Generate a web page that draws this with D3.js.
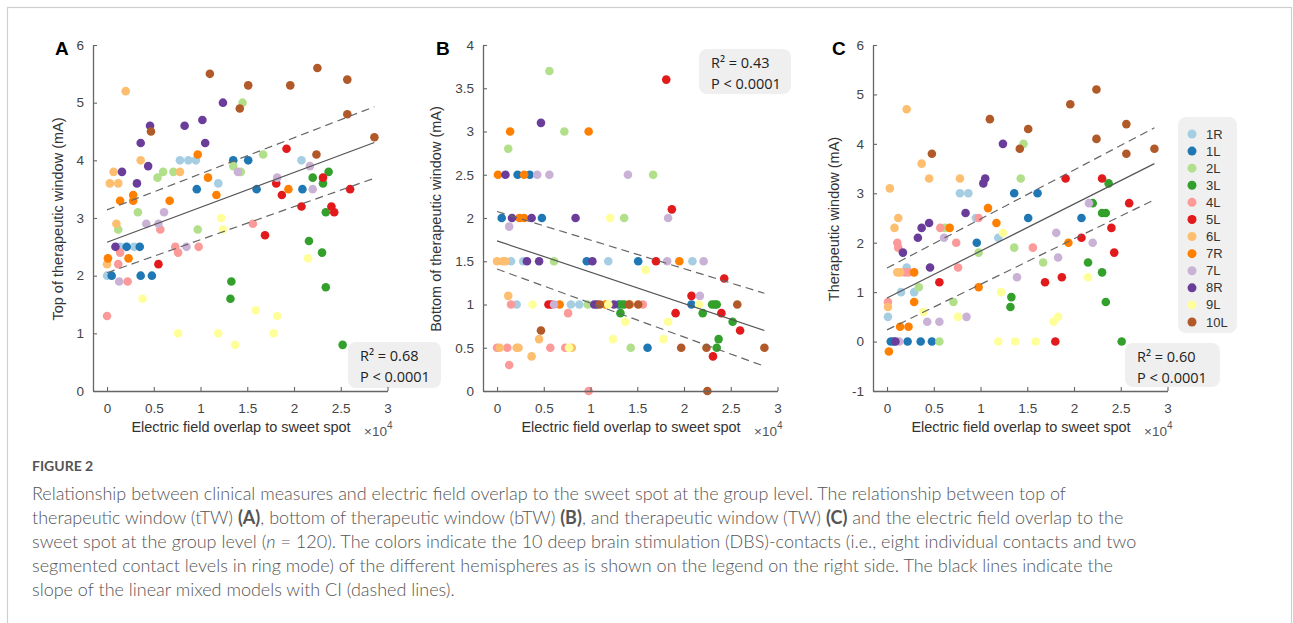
<!DOCTYPE html>
<html><head><meta charset="utf-8">
<script src="https://cdn.jsdelivr.net/npm/d3@7"></script>
<style>body{margin:0;background:#fff}svg{display:block}</style>
</head><body>
<svg id="fig" width="1293" height="623"></svg>
<script>
// ---------- DATA ----------
const categories = ["1R","1L","2L","3L","4L","5L","6L","7R","7L","8R","9L","10L"];
const categoryColors = ["#a6cee3","#1f78b4","#b2df8a","#33a02c","#fb9a99","#e31a1c","#fdbf6f","#ff7f00","#cab2d6","#6a3d9a","#ffff99","#b15928"];
const xTicks = [0,0.5,1,1.5,2,2.5,3];
const xTickLabels = ["0","0.5","1","1.5","2","2.5","3"];
const yTicksA = [0,1,2,3,4,5,6];
const yTicksB = [0,0.5,1,1.5,2,2.5,3,3.5,4];
const yTicksC = [-1,0,1,2,3,4,5,6];
const xAxisTitle = "Electric field overlap to sweet spot";
const yTitles = ["Top of therapeutic window (mA)","Bottom of therapeutic window (mA)","Therapeutic window (mA)"];
const panelLetters = ["A","B","C"];
const statsA = ["R² = 0.68","P < 0.0001"];
const statsB = ["R² = 0.43","P < 0.0001"];
const statsC = ["R² = 0.60","P < 0.0001"];

// [contact, overlap (x10^4), value (mA)]
const topTW = [
 ["1R",0.78,4.0],["1R",0.87,4.0],["1R",0.95,4.0],["1R",1.19,3.6],["1R",2.08,4.0],["1R",0.14,2.5],["1R",0.29,2.5],["1R",0.0,2.0],
 ["1L",1.35,4.0],["1L",1.51,4.0],["1L",0.96,3.5],["1L",1.60,3.5],["1L",2.09,3.5],["1L",0.21,2.5],["1L",0.35,2.5],["1L",0.05,2.0],["1L",0.36,2.0],["1L",0.48,2.0],
 ["2L",1.45,5.0],["2L",1.67,4.1],["2L",1.35,3.9],["2L",1.43,3.8],["2L",0.54,3.7],["2L",0.60,3.8],["2L",0.71,3.8],["2L",0.33,3.1],["2L",0.12,2.8],["2L",0.97,2.8],
 ["3L",2.20,3.7],["3L",2.37,3.8],["3L",2.31,3.6],["3L",2.34,3.1],["3L",2.16,2.6],["3L",2.30,2.4],["3L",2.34,1.8],["3L",1.33,1.9],["3L",1.32,1.6],["3L",2.52,0.8],
 ["4L",0.57,2.8],["4L",1.56,2.9],["4L",0.73,2.5],["4L",0.76,2.4],["4L",0.98,2.5],["4L",0.14,2.4],["4L",0.12,2.2],["4L",0.22,1.9],["4L",0.0,1.3],
 ["5L",1.92,4.2],["5L",1.81,3.6],["5L",1.87,3.4],["5L",2.08,3.2],["5L",2.31,3.7],["5L",2.40,3.2],["5L",2.43,3.1],["5L",2.60,3.5],["5L",1.69,2.7],["5L",0.55,2.2],
 ["6L",0.20,5.2],["6L",0.36,4.0],["6L",0.07,3.8],["6L",0.03,3.6],["6L",0.12,3.6],["6L",0.10,2.9],["6L",0.78,3.8],["6L",0.0,2.2],
 ["7R",0.97,4.1],["7R",1.08,3.7],["7R",1.17,3.4],["7R",1.94,3.5],["7R",0.67,3.3],["7R",0.28,3.4],["7R",0.28,3.3],["7R",0.14,3.3],["7R",0.01,2.3],["7R",0.23,2.3],
 ["7L",1.40,3.8],["7L",1.82,3.7],["7L",2.17,3.9],["7L",2.20,3.5],["7L",0.61,3.1],["7L",0.42,2.9],["7L",0.55,2.9],["7L",0.85,2.5],["7L",0.13,1.9],
 ["8R",1.24,5.0],["8R",0.46,4.6],["8R",0.83,4.6],["8R",1.02,4.7],["8R",0.36,4.3],["8R",1.05,4.3],["8R",0.44,3.9],["8R",0.16,3.8],["8R",0.32,3.6],["8R",0.09,2.5],
 ["9L",1.22,3.0],["9L",1.24,2.8],["9L",2.15,2.3],["9L",0.38,1.6],["9L",0.76,1.0],["9L",1.19,1.0],["9L",1.37,0.8],["9L",1.59,1.4],["9L",1.78,1.0],["9L",1.82,1.3],
 ["10L",1.10,5.5],["10L",1.51,5.3],["10L",2.25,5.6],["10L",1.96,5.3],["10L",2.57,5.4],["10L",2.57,4.8],["10L",2.86,4.4],["10L",2.24,4.1],["10L",1.42,4.9],["10L",0.47,4.5]
];
const bottomTW = [
 ["1R",0.15,1.5],["1R",0.28,1.5],["1R",1.19,1.5],["1R",2.09,1.5],["1R",0.21,1.0],["1R",0.79,1.0],["1R",0.88,1.0],
 ["1L",0.22,2.5],["1L",0.35,2.5],["1L",0.05,2.0],["1L",0.48,2.0],["1L",0.96,1.5],["1L",1.51,1.5],["1L",2.08,1.0],["1L",1.61,0.5],["1L",1.30,1.0],
 ["2L",0.56,3.7],["2L",0.72,3.0],["2L",0.12,2.8],["2L",1.67,2.5],["2L",1.36,2.0],["2L",0.61,1.5],["2L",0.97,1.0],["2L",1.43,0.5],
 ["3L",1.33,1.0],["3L",1.36,1.0],["3L",2.30,1.0],["3L",2.33,1.0],["3L",2.35,1.0],["3L",1.32,0.9],["3L",2.20,0.9],["3L",2.52,0.8],["3L",2.37,0.6],["3L",2.35,0.5],
 ["4L",0.15,1.0],["4L",1.56,1.0],["4L",0.76,0.9],["4L",0.0,0.5],["4L",0.11,0.5],["4L",0.57,0.5],["4L",0.73,0.5],["4L",0.13,0.3],["4L",0.98,0.0],
 ["5L",1.81,3.6],["5L",1.87,2.1],["5L",1.70,1.5],["5L",2.43,1.3],["5L",2.08,1.1],["5L",0.55,1.0],["5L",0.58,1.0],["5L",1.91,0.9],["5L",2.40,0.9],["5L",2.60,0.7],["5L",2.31,0.4],
 ["6L",0.0,1.5],["6L",0.06,1.5],["6L",0.09,1.5],["6L",0.12,1.1],["6L",0.45,0.6],["6L",0.37,0.4],["6L",0.03,0.5],["6L",0.21,0.5],["6L",0.23,0.5],["6L",0.80,0.5],
 ["7R",0.14,3.0],["7R",0.98,3.0],["7R",0.01,2.5],["7R",0.29,2.5],["7R",0.24,2.0],["7R",0.29,2.0],["7R",1.95,1.5],["7R",0.67,1.0],["7R",1.16,1.0],["7R",1.42,1.0],
 ["7L",0.43,2.5],["7L",0.56,2.5],["7L",1.40,2.5],["7L",1.83,2.0],["7L",0.13,1.9],["7L",1.82,1.5],["7L",2.21,1.5],["7L",0.61,1.0],["7L",2.17,1.1],
 ["8R",0.47,3.1],["8R",0.09,2.5],["8R",0.16,2.0],["8R",0.37,2.0],["8R",0.84,2.0],["8R",0.32,1.5],["8R",0.45,1.5],["8R",1.02,1.5],["8R",1.04,1.0],["8R",1.07,1.0],["8R",1.25,1.0],
 ["9L",1.21,2.0],["9L",1.59,1.4],["9L",0.38,1.0],["9L",1.19,1.0],["9L",2.16,1.0],["9L",1.37,0.8],["9L",1.83,0.8],["9L",1.24,0.6],["9L",1.78,0.6],["9L",0.77,0.5],
 ["10L",1.10,1.0],["10L",1.41,1.0],["10L",1.51,1.0],["10L",2.57,1.0],["10L",0.47,0.7],["10L",1.97,0.5],["10L",2.24,0.5],["10L",2.86,0.5],["10L",2.25,0.0]
];
const windowTW = [
 ["1R",0.78,3.0],["1R",0.87,3.0],["1R",0.95,2.5],["1R",1.19,2.1],["1R",0.21,1.5],["1R",0.15,1.0],["1R",0.29,1.0],["1R",0.01,0.5],
 ["1L",1.36,3.0],["1L",1.61,3.0],["1L",1.51,2.5],["1L",2.08,2.5],["1L",0.96,2.0],["1L",0.04,0.0],["1L",0.07,0.0],["1L",0.22,0.0],["1L",0.36,0.0],["1L",0.48,0.0],
 ["2L",1.46,4.0],["2L",1.43,3.3],["2L",0.62,2.3],["2L",0.98,1.8],["2L",1.36,1.9],["2L",1.67,1.6],["2L",0.34,1.1],["2L",0.71,0.8],["2L",0.56,0.0],
 ["3L",2.37,3.2],["3L",2.20,2.8],["3L",2.30,2.6],["3L",2.34,2.6],["3L",2.15,1.6],["3L",2.30,1.4],["3L",1.33,0.9],["3L",1.32,0.7],["3L",2.34,0.8],["3L",2.51,0.0],
 ["4L",0.98,2.5],["4L",0.57,2.3],["4L",0.11,2.0],["4L",0.12,1.9],["4L",0.74,2.0],["4L",1.56,1.9],["4L",0.76,1.5],["4L",0.19,1.4],["4L",0.23,1.4],["4L",0.01,0.8],
 ["5L",1.91,3.3],["5L",2.30,3.3],["5L",2.59,2.8],["5L",2.40,2.3],["5L",2.08,2.1],["5L",2.43,1.8],["5L",1.87,1.3],["5L",1.69,1.2],["5L",0.56,1.2],["5L",1.80,0.0],
 ["6L",0.21,4.7],["6L",0.37,3.6],["6L",0.45,3.3],["6L",0.78,3.3],["6L",0.03,3.1],["6L",0.12,2.5],["6L",0.08,2.3],["6L",0.11,1.4],["6L",0.14,1.4],["6L",0.01,0.7],
 ["7R",1.08,2.7],["7R",1.17,2.4],["7R",0.67,2.3],["7R",1.94,2.0],["7R",0.29,1.4],["7R",0.98,1.1],["7R",0.29,0.8],["7R",0.14,0.3],["7R",0.23,0.3],["7R",0.02,-0.2],
 ["7L",2.16,2.8],["7L",0.61,2.1],["7L",1.81,2.2],["7L",2.20,2.0],["7L",1.83,1.7],["7L",1.39,1.3],["7L",0.85,0.5],["7L",0.43,0.4],["7L",0.56,0.4],["7L",0.13,0.0],
 ["8R",1.24,4.0],["8R",1.05,3.3],["8R",1.03,3.2],["8R",0.84,2.6],["8R",0.45,2.4],["8R",0.37,2.3],["8R",0.33,2.1],["8R",0.17,1.8],["8R",0.46,1.5],["8R",0.09,0.0],
 ["9L",1.24,2.2],["9L",2.15,1.3],["9L",1.22,1.0],["9L",0.39,0.6],["9L",0.76,0.5],["9L",1.83,0.5],["9L",1.78,0.4],["9L",1.19,0.0],["9L",1.37,0.0],["9L",1.59,0.0],
 ["10L",2.24,5.1],["10L",1.96,4.8],["10L",1.10,4.5],["10L",1.51,4.3],["10L",2.56,4.4],["10L",2.24,4.1],["10L",1.42,3.9],["10L",2.56,3.8],["10L",2.86,3.9],["10L",0.48,3.8]
];
// model fit and CI lines: [[x0,y0],[x1,y1]]
const fitA = [[0,2.58],[2.86,4.31]], ciHiA = [[0,3.14],[2.86,4.93]], ciLoA = [[0,2.05],[2.86,3.69]];
const fitB = [[0,1.736],[2.86,0.70]], ciHiB = [[0,2.075],[2.86,1.13]], ciLoB = [[0,1.41],[2.86,0.286]];
const fitC = [[0,0.88],[2.86,3.60]], ciHiC = [[0,1.487],[2.86,4.325]], ciLoC = [[0,0.237],[2.86,2.87]];

const captionTitle = "FIGURE 2";
const captionLines = [
 [["Relationship between clinical measures and electric field overlap to the sweet spot at the group level. The relationship between top of",""]],
 [["therapeutic window (tTW) ",""],["(A)","b"],[", bottom of therapeutic window (bTW) ",""],["(B)","b"],[", and therapeutic window (TW) ",""],["(C)","b"],[" and the electric field overlap to the",""]],
 [["sweet spot at the group level (",""],["n","i"],[" = 120). The colors indicate the 10 deep brain stimulation (DBS)-contacts (i.e., eight individual contacts and two",""]],
 [["segmented contact levels in ring mode) of the different hemispheres as is shown on the legend on the right side. The black lines indicate the",""]],
 [["slope of the linear mixed models with CI (dashed lines).",""]]
];

// ---------- DRAW ----------
const svg = d3.select("#fig");
const color = d3.scaleOrdinal().domain(categories).range(categoryColors);
const FONT = "'Liberation Sans', Arial, sans-serif";

svg.append("rect").attr("x",7.5).attr("y",7.5).attr("width",1284).attr("height",700)
  .attr("fill","#fff").attr("stroke","#cfcfcf").attr("stroke-width",1.2);

const panels = [
 {data: topTW, yDom:[0,6], yTicks:yTicksA, yFmt:d3.format("d"), axisX:93, letterX:55, titleX:63,
  fit:fitA, hi:ciHiA, lo:ciLoA, stats:statsA, box:{x:348,y:342,w:93,h:46}},
 {data: bottomTW, yDom:[0,4], yTicks:yTicksB, yFmt:d => String(d), axisX:483, letterX:436, titleX:441,
  fit:fitB, hi:ciHiB, lo:ciLoB, stats:statsB, box:{x:699,y:49,w:92,h:45}},
 {data: windowTW, yDom:[-1,6], yTicks:yTicksC, yFmt:d => String(d), axisX:873, letterX:832, titleX:839,
  fit:fitC, hi:ciHiC, lo:ciLoC, stats:statsC, box:{x:1125,y:343,w:95,h:44}}
];

panels.forEach((p,i) => {
  const g = svg.append("g");
  const x = d3.scaleLinear().domain([-0.15,3]).range([p.axisX, p.axisX+294.5]);
  const y = d3.scaleLinear().domain(p.yDom).range([391,45]);

  // stats box (behind)
  g.append("rect").attr("x",p.box.x).attr("y",p.box.y).attr("width",p.box.w).attr("height",p.box.h)
    .attr("rx",8).attr("fill","#efefef");
  p.stats.forEach((s,k) => {
    g.append("text").attr("x",p.box.x+12).attr("y",p.box.y+19+k*20.5)
      .attr("font-family","'Open Sans', sans-serif").attr("font-size",14.5).attr("fill","#222").text(s);
  });

  // points
  g.append("g").selectAll("circle").data(p.data).join("circle")
    .attr("cx",d=>x(d[1])).attr("cy",d=>y(d[2])).attr("r",4.3)
    .attr("fill",d=>color(d[0]));

  // lines
  const line = d3.line().x(d=>x(d[0])).y(d=>y(d[1]));
  g.append("path").attr("d",line(p.fit)).attr("fill","none").attr("stroke","#555").attr("stroke-width",1.2);
  [p.hi,p.lo].forEach(l => g.append("path").attr("d",line(l)).attr("fill","none")
     .attr("stroke","#666").attr("stroke-width",1.2).attr("stroke-dasharray","8,5"));

  // axes
  const xa = g.append("g").attr("transform","translate(0,391)")
    .call(d3.axisBottom(x).tickValues(xTicks).tickFormat((d,k)=>xTickLabels[k]).tickSizeInner(-4).tickSizeOuter(0).tickPadding(12));
  const ya = g.append("g").attr("transform",`translate(${p.axisX},0)`)
    .call(d3.axisLeft(y).tickValues(p.yTicks).tickFormat(p.yFmt).tickSizeInner(-4).tickSizeOuter(0).tickPadding(9));
  [xa,ya].forEach(a => {
    a.select(".domain").attr("stroke","#666").attr("stroke-width",1.3);
    a.selectAll(".tick line").attr("stroke","#666").attr("stroke-width",1.1);
    a.selectAll("text").attr("font-family",FONT).attr("font-size",13.5).attr("fill","#444");
  });

  // titles
  g.append("text").attr("x",x(0)+134).attr("y",432).attr("text-anchor","middle")
    .attr("font-family",FONT).attr("font-size",14.5).attr("fill","#333").text(xAxisTitle);
  const mult = g.append("text").attr("x",x(0)+257).attr("y",436)
    .attr("font-family",FONT).attr("font-size",13.5).attr("fill","#555");
  mult.append("tspan").text("×10");
  mult.append("tspan").attr("font-size",10).attr("dy",-7).text("4");
  g.append("text").attr("transform",`translate(${p.titleX},219) rotate(-90)`).attr("text-anchor","middle")
    .attr("font-family",FONT).attr("font-size",14.5).attr("fill","#333").text(yTitles[i]);
  g.append("text").attr("x",p.letterX).attr("y",55).attr("font-family",FONT).attr("font-weight","bold")
    .attr("font-size",19).attr("fill","#000").text(panelLetters[i]);
});

// legend
const lg = svg.append("g");
lg.append("rect").attr("x",1178).attr("y",117).attr("width",59).attr("height",216).attr("rx",8).attr("fill","#f0f0f0");
const ly = d3.scalePoint().domain(categories).range([134,322]);
categories.forEach(c => {
  lg.append("circle").attr("cx",1192).attr("cy",ly(c)).attr("r",4.5).attr("fill",color(c));
  lg.append("text").attr("x",1206).attr("y",ly(c)+4.5).attr("font-family",FONT).attr("font-size",13)
    .attr("fill","#333").text(c);
});

// caption
const CF = "Lato, 'Open Sans', sans-serif";
svg.append("text").attr("x",32).attr("y",471).attr("font-family",CF).attr("font-weight",700)
  .attr("font-size",14).attr("fill","#555").text(captionTitle);
captionLines.forEach((ln,k) => {
  const t = svg.append("text").attr("x",32).attr("y",500+k*24).attr("font-family",CF)
    .attr("font-weight",300).attr("font-size",18).attr("fill","#555");
  ln.forEach(([s,st]) => {
    const ts = t.append("tspan").text(s);
    if (st==="b") ts.attr("font-weight",700);
    if (st==="i") ts.attr("font-style","italic");
  });
});
</script>
</body></html>
